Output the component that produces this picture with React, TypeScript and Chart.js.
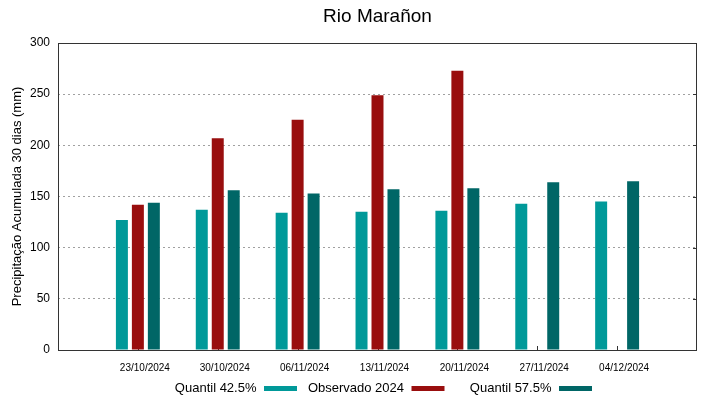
import { useEffect, useRef } from "react";
import { Chart, registerables } from "chart.js";

Chart.register(...registerables);

const TITLE = "Rio Marañon";
const Y_TITLE = "Precipitação Acumulada 30 dias (mm)";
const categories = ["23/10/2024", "30/10/2024", "06/11/2024", "13/11/2024", "20/11/2024", "27/11/2024", "04/12/2024"];
const seriesNames = ["Quantil 42.5%", "Observado 2024", "Quantil 57.5%"];
const quantil425 = [127, 137, 134, 135, 136, 143, 145];
const observado2024 = [142, 207, 225, 249, 273, null, null];
const quantil575 = [144, 156, 153, 157, 158, 164, 165];
const yMin = 0;
const yMax = 300;
const yStep = 50;

const COLORS = ["#009999", "#990E0E", "#006666"];
const FONT = "'Liberation Sans', Arial, sans-serif";

const pad = (arr: (number | null)[]) => [null, ...arr, null];

const decorPlugin = {
  id: "decor",
  beforeDatasetsDraw(chart: any) {
    const { ctx, chartArea } = chart;
    const { right, bottom } = chartArea;
    const xs = chart.scales.x;
    const ys = chart.scales.y;
    ctx.save();
    ctx.strokeStyle = "#333";
    ctx.lineWidth = 1;
    ctx.beginPath();
    categories.forEach((_, i) => {
      const x = Math.round(xs.getPixelForValue(i + 1)) + 0.5;
      ctx.moveTo(x, bottom);
      ctx.lineTo(x, bottom - 4);
    });
    for (let v = yMin + yStep; v < yMax; v += yStep) {
      const y = Math.round(ys.getPixelForValue(v)) + 0.5;
      ctx.moveTo(right, y);
      ctx.lineTo(right - 4, y);
    }
    ctx.stroke();
    ctx.restore();
  },
  afterDraw(chart: any) {
    const { ctx, chartArea } = chart;
    const { left, right, top, bottom } = chartArea;
    ctx.save();
    // frame
    ctx.strokeStyle = "#333";
    ctx.lineWidth = 1;
    ctx.strokeRect(left + 0.5, top + 0.5, right - left - 1, bottom - top);
    // title
    ctx.fillStyle = "#000";
    ctx.font = `19px ${FONT}`;
    ctx.textAlign = "center";
    ctx.textBaseline = "alphabetic";
    ctx.fillText(TITLE, (left + right) / 2, 22);
    // y title
    ctx.save();
    ctx.translate(21, (top + bottom) / 2);
    ctx.rotate(-Math.PI / 2);
    ctx.font = `13px ${FONT}`;
    ctx.textAlign = "center";
    ctx.fillText(Y_TITLE, 0, 0);
    ctx.restore();
    // legend
    ctx.font = `13px ${FONT}`;
    ctx.textAlign = "right";
    const sampleStart = 264;
    const colStep = 147.5;
    const sampleW = 33;
    const ly = 392;
    seriesNames.forEach((name, i) => {
      const sx = sampleStart + i * colStep;
      ctx.fillStyle = "#000";
      ctx.fillText(name, sx - 7.5, ly);
      ctx.fillStyle = COLORS[i];
      ctx.fillRect(sx, 386, sampleW, 5);
    });
    ctx.restore();
  },
};

export default function App() {
  const ref = useRef<HTMLCanvasElement>(null);
  useEffect(() => {
    if (!ref.current) return;
    Chart.defaults.font.family = FONT;
    const chart = new Chart(ref.current, {
      type: "bar",
      data: {
        labels: ["", ...categories, ""],
        datasets: [
          { label: seriesNames[0], data: pad(quantil425), backgroundColor: COLORS[0] },
          { label: seriesNames[1], data: pad(observado2024), backgroundColor: COLORS[1] },
          { label: seriesNames[2], data: pad(quantil575), backgroundColor: COLORS[2] },
        ],
      },
      options: {
        animation: false,
        responsive: false,
        maintainAspectRatio: false,
        layout: { padding: { top: 43, right: 22, left: 0, bottom: 0 } },
        datasets: { bar: { categoryPercentage: 0.6, barPercentage: 0.75 } },
        plugins: {
          legend: { display: false },
          title: { display: false },
          tooltip: { enabled: false },
        },
        scales: {
          x: {
            type: "category",
            offset: false,
            grid: { display: false, drawTicks: false },
            border: { display: false },
            ticks: {
              autoSkip: false,
              maxRotation: 0,
              minRotation: 0,
              font: { size: 10 },
              color: "#000",
              labelOffset: 7,
              padding: 12,
            },
            afterFit: (s: any) => {
              s.height = 49;
            },
          },
          y: {
            min: yMin,
            max: yMax,
            ticks: { stepSize: yStep, font: { size: 12 }, color: "#000", padding: 8 },
            grid: { color: "#a0a0a0", drawTicks: false, lineWidth: 1 },
            border: { display: false, dash: [2, 3] },
            afterFit: (s: any) => {
              s.width = 58;
            },
          },
        },
      },
      plugins: [decorPlugin],
    });
    return () => chart.destroy();
  }, []);
  return (
    <div style={{ position: "fixed", left: 0, top: 0, width: 719, height: 399, background: "#fff" }}>
      <canvas ref={ref} width={719} height={399} style={{ width: 719, height: 399 }} />
    </div>
  );
}
